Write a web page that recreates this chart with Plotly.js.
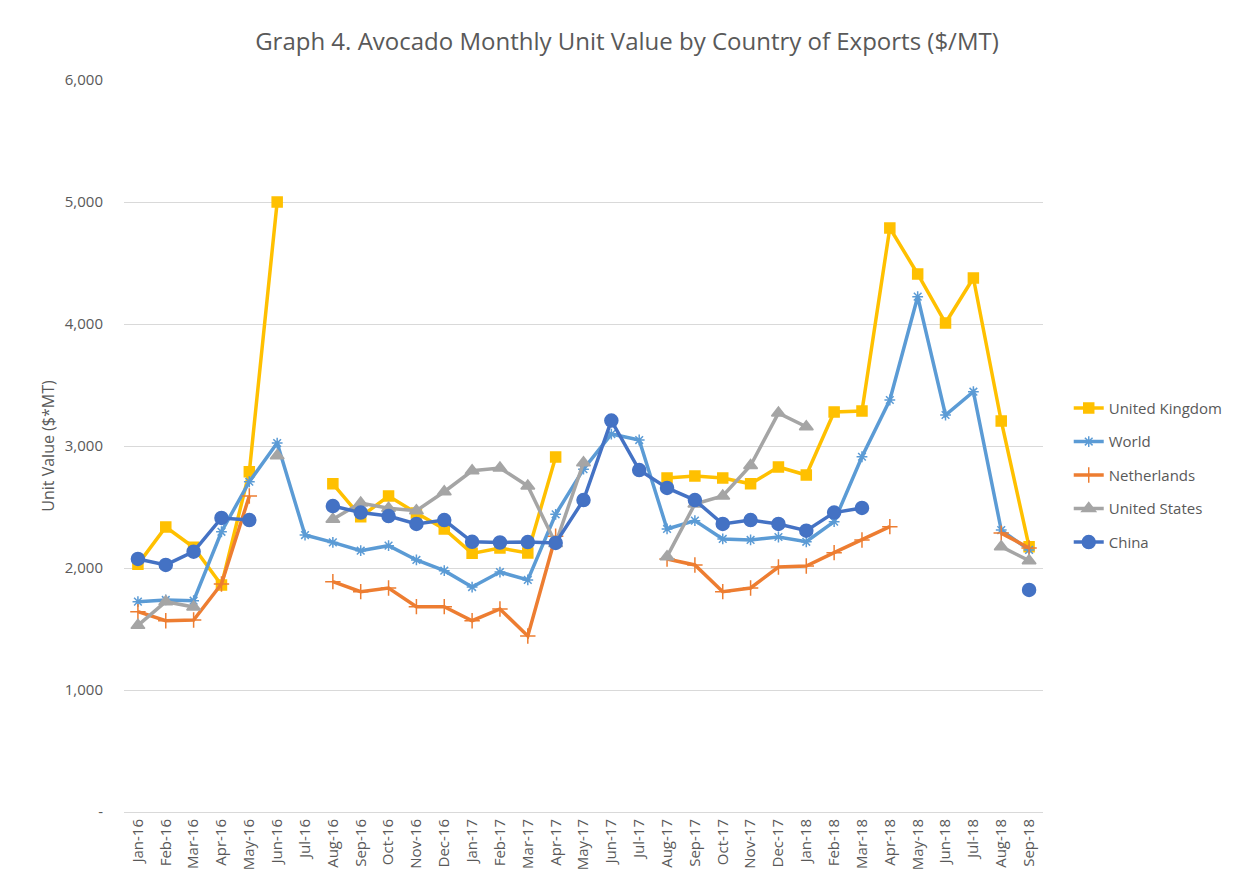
<!DOCTYPE html>
<html>
<head>
<meta charset="utf-8">
<script src="https://cdn.plot.ly/plotly-3.0.1.min.js"></script>
<style>
html,body{margin:0;padding:0;background:#fff;}
#chart{width:1244px;height:886px;}
</style>
</head>
<body>
<div id="chart"></div>
<script>
const months = ["Jan-16","Feb-16","Mar-16","Apr-16","May-16","Jun-16","Jul-16","Aug-16","Sep-16","Oct-16","Nov-16","Dec-16",
"Jan-17","Feb-17","Mar-17","Apr-17","May-17","Jun-17","Jul-17","Aug-17","Sep-17","Oct-17","Nov-17","Dec-17",
"Jan-18","Feb-18","Mar-18","Apr-18","May-18","Jun-18","Jul-18","Aug-18","Sep-18"];

const unitedKingdom = [2030,2336,2170,1860,2788,5000,null,2690,2420,2590,2450,2320,
2120,2164,2123,2910,null,null,null,2738,2754,2738,2690,2828,
2762,3279,3287,4787,4410,4008,4377,3205,2175];

const world = [1724,1738,1732,2297,2707,3024,2270,2210,2142,2183,2066,1978,
1844,1967,1902,2440,2810,3098,3049,2320,2388,2238,2230,2254,
2215,2380,2912,3377,4224,3254,3445,2311,2148];

const netherlands = [1642,1568,1574,1869,2590,null,null,1888,1806,1836,1683,1683,
1568,1664,1443,2260,null,null,null,2074,2025,1806,1836,2008,
2016,2126,2230,2339,null,null,null,2286,2164];

const unitedStates = [1530,1724,1680,null,null,2920,null,2400,2533,2490,2470,2625,
2797,2820,2672,2200,2863,null,null,2093,2525,2590,2840,3270,
3158,null,null,null,null,null,null,2175,2060];

const china = [2074,2025,2134,2410,2393,null,null,2508,2454,2426,2361,2393,
2215,2209,2213,2205,2557,3208,2803,2656,2557,2361,2393,2361,
2306,2454,2492,null,null,null,null,null,1820];

const yTickVals = [0,1000,2000,3000,4000,5000,6000];
const yTickText = ["-","1,000","2,000","3,000","4,000","5,000","6,000"];

function series(name, y, color, symbol, size) {
  return {
    type: "scatter",
    mode: "lines+markers",
    name: name,
    legendgroup: name,
    x: months,
    y: y,
    line: {color: color, width: 3.5},
    marker: {color: color, symbol: symbol, size: size, line: {color: color, width: 1.5}},
    connectgaps: false,
    hoverinfo: "skip"
  };
}

const traces = [
  series("United Kingdom", unitedKingdom, "#FFC000", "square", 10),
  series("World", world, "#5B9BD5", "asterisk-open", 9),
  series("Netherlands", netherlands, "#ED7D31", "cross-thin-open", 11),
  series("United States", unitedStates, "#A5A5A5", "triangle-up", 12),
  series("China", china, "#4472C4", "circle", 13)
];

const layout = {
  width: 1244,
  height: 886,
  paper_bgcolor: "#ffffff",
  plot_bgcolor: "#ffffff",
  margin: {l: 124, r: 201, t: 80, b: 74},
  font: {family: "Open Sans, Liberation Sans, sans-serif", color: "#595959", size: 15},
  title: {
    text: "Graph 4. Avocado Monthly Unit Value by Country of Exports ($/MT)",
    font: {size: 24, color: "#595959", family: "Open Sans, sans-serif"},
    x: 0.504, xanchor: "center", y: 0.953, yanchor: "middle"
  },
  xaxis: {
    type: "category",
    categoryorder: "array",
    categoryarray: months,
    range: [-0.5, 32.5],
    tickangle: -90,
    tickfont: {size: 15, color: "#595959"},
    showgrid: false,
    showline: true,
    linecolor: "#d9d9d9",
    linewidth: 1,
    ticks: "",
    zeroline: false,
    fixedrange: true
  },
  yaxis: {
    range: [0, 6000],
    tickvals: yTickVals,
    ticktext: yTickText,
    tickfont: {size: 15, color: "#595959"},
    showgrid: true,
    gridcolor: "#d9d9d9",
    gridwidth: 1,
    zeroline: false,
    showline: false,
    ticks: "",
    ticklabelstandoff: 20,
    title: {text: "Unit Value ($*MT)", font: {size: 16, color: "#595959"}, standoff: 6},
    fixedrange: true
  },
  showlegend: true,
  legend: {
    x: 1.028, xanchor: "left",
    y: 0.46, yanchor: "middle",
    font: {size: 15, color: "#595959"},
    bgcolor: "rgba(0,0,0,0)",
    tracegroupgap: 11
  }
};

Plotly.newPlot("chart", traces, layout, {displayModeBar: false, staticPlot: true});
</script>
</body>
</html>
